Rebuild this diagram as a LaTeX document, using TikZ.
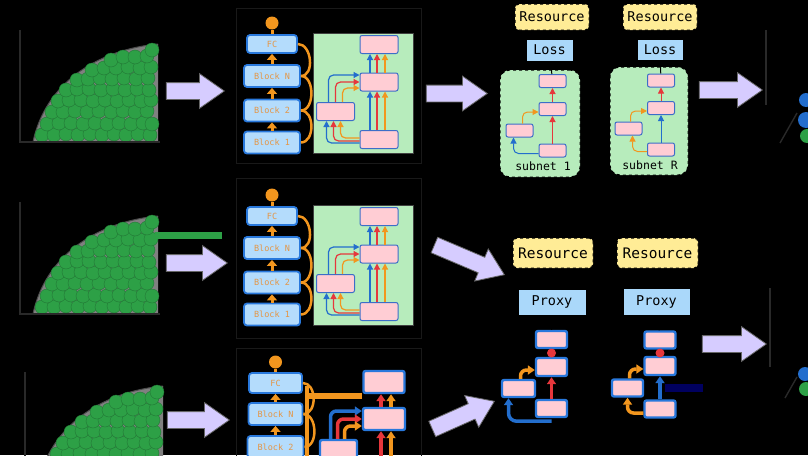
\documentclass[tikz,border=0pt]{standalone}
\usepackage{fontspec}
\setmonofont{DejaVu Sans Mono}
\usetikzlibrary{shapes.arrows, arrows.meta, positioning}
\definecolor{blkBlue}{RGB}{40,120,220}
\definecolor{blkFill}{RGB}{180,220,252}
\definecolor{blkText}{RGB}{228,150,70}
\definecolor{cellPink}{RGB}{255,205,212}
\definecolor{cellBlue}{RGB}{60,110,200}
\definecolor{panelGreen}{RGB}{183,236,188}
\definecolor{dotGreen}{RGB}{45,160,70}
\definecolor{lav}{RGB}{214,204,255}
\definecolor{resYellow}{RGB}{255,236,150}
\definecolor{lossBlue}{RGB}{170,216,250}
\definecolor{skipOrange}{RGB}{242,150,30}
\definecolor{skipRed}{RGB}{230,55,60}
\definecolor{skipBlue}{RGB}{35,110,205}
\definecolor{navyBar}{RGB}{0,0,95}

\begin{document}
\begin{tikzpicture}[
  x=1pt, y=-1pt,
  blk/.style={rectangle, rounded corners=3pt, draw=blkBlue, line width=1.8pt,
              fill=blkFill, text=blkText, font=\ttfamily\fontsize{8.5}{9}\selectfont,
              minimum width=56pt, minimum height=22pt, inner sep=0pt},
  cell/.style={rectangle, rounded corners=2pt, draw=cellBlue, line width=1pt,
               fill=cellPink, minimum width=38pt, minimum height=18pt, inner sep=0pt},
  scell/.style={cell, minimum width=27pt, minimum height=13pt},
  tcell/.style={cell, draw=blkBlue, line width=2.4pt, minimum width=31pt, minimum height=17pt},
  res/.style={rectangle, rounded corners=4pt, draw=black, dashed, line width=1pt,
              fill=resYellow, font=\ttfamily\fontsize{13.5}{15}\selectfont,
              minimum width=74pt, minimum height=26pt, inner sep=0pt},
  lossbox/.style={rectangle, draw=black, line width=1pt, fill=lossBlue,
                  font=\ttfamily\fontsize{13.5}{15}\selectfont,
                  minimum width=47pt, minimum height=22pt, inner sep=0pt},
  subnet/.style={rectangle, rounded corners=10pt, draw=black, dashed, line width=1pt,
                 fill=panelGreen, minimum width=80pt, minimum height=107pt, inner sep=0pt},
  panel/.style={rectangle, draw=black!75, line width=0.8pt, fill=panelGreen,
                minimum width=100pt, minimum height=120pt, inner sep=0pt},
  bigarr/.style={single arrow, draw=black!60, line width=0.8pt, fill=lav,
                 minimum width=34pt, single arrow head extend=9pt,
                 single arrow tip angle=70, inner xsep=0pt, inner ysep=8pt, anchor=tip},
  odot/.style={circle, fill=skipOrange, minimum size=13pt, inner sep=0pt},
  rdot/.style={circle, fill=skipRed, minimum size=9pt, inner sep=0pt},
  lbl/.style={font=\ttfamily\fontsize{11.5}{13}\selectfont, text=black},
  carr/.style={-{Triangle[width=6pt,length=6pt]}, line width=1.2pt, rounded corners=5pt},
  oarr/.style={-{Triangle[width=10pt,length=6pt]}, line width=3pt, skipOrange},
  karr/.style={-{Triangle[width=6pt,length=4pt]}, line width=1pt, black},
  thk/.style={-{Triangle[width=9pt,length=7pt]}, line width=3.5pt, rounded corners=6pt},
  skipline/.style={skipOrange, line width=2.5pt},
  frame/.style={draw=black!90, line width=1pt},
  axisline/.style={draw=black!84, line width=1.4pt},
  pics/cloud/.style={code={
    \fill[black!50] (33,142) .. controls (45,85) and (95,50) .. (158,44) -- (158,142) -- cycle;
    \draw[black!70, line width=1pt] (33,142) .. controls (45,85) and (95,50) .. (158,44);
    \foreach \p in {(42,135),(54,135),(66,134),(78,135),(90,134),(102,135),(114,134),(126,135),(138,134),(150,135),
                    (47,124),(59,123),(71,123),(83,124),(95,123),(107,124),(119,123),(131,124),(143,123),(152,124),
                    (52,112),(63,112),(75,111),(87,112),(99,111),(111,112),(123,111),(135,112),(147,111),
                    (58,101),(69,100),(81,100),(93,101),(105,100),(117,101),(129,100),(141,101),(151,100),
                    (66,90),(77,89),(89,89),(101,90),(113,89),(125,90),(137,89),(149,90),
                    (77,80),(88,79),(100,78),(112,79),(124,78),(136,79),(148,78),
                    (92,70),(104,68),(116,68),(128,67),(140,68),(151,67),
                    (111,60),(123,57),(135,57),(147,56),(152,50)}
      \filldraw[fill=dotGreen, draw=dotGreen!75!black, line width=0.4pt] \p circle[radius=7pt];
    \draw[axisline] (20,30) -- (20,142) -- (160,142);
  }},
  pics/netstack/.style={code={
    %% Blocks
    \node[blk, minimum width=50pt, minimum height=18pt] (-fc) at (272,44) {FC};
    \node[blk] (-bn) at (272,76) {Block N};
    \node[blk] (-b2) at (272,110.5) {Block 2};
    \node[blk] (-b1) at (272,142.5) {Block 1};
    \node[odot] (-out) at (272,23) {};
    \draw[skipOrange, line width=3pt] (-fc) -- (-out);
    \draw[oarr] (-b1) -- (-b2);
    \draw[oarr] (-b2) -- (-bn);
    \draw[oarr] (-bn) -- (-fc);
    \draw[skipline] (-b1.east) .. controls +(14,0) and +(14,0) .. (-b2.east);
    \draw[skipline] (-b2.east) .. controls +(14,0) and +(14,0) .. (-bn.east);
    \draw[skipline] (-bn.east) .. controls +(14,0) and +(14,0) .. (-fc.east);
    %% Search space
    \node[panel] (-pnl) at (363,93) {};
    \node[cell] (-c4) at (379,44.5) {};
    \node[cell] (-c3) at (379,82) {};
    \node[cell] (-c2) at (335.5,111.5) {};
    \node[cell] (-c1) at (379,139.5) {};
    \foreach \dx/\col in {-9/skipBlue, -2/skipRed, 6/skipOrange} {
      \draw[carr, \col] ([xshift=\dx pt]-c1.north) -- ([xshift=\dx pt]-c3.south);
      \draw[carr, \col] ([xshift=\dx pt]-c3.north) -- ([xshift=\dx pt]-c4.south);
    }
    \foreach \dy/\dx/\col in {-3.5/-9/skipBlue, -1.5/-2/skipRed, 1.5/5/skipOrange}
      \draw[carr, \col] ([yshift=\dy pt]-c1.west) -| ([xshift=\dx pt]-c2.south);
    \foreach \dx/\dy/\col in {-7/7/skipBlue, 0/0/skipRed, 7/-6/skipOrange}
      \draw[carr, \col] ([xshift=\dx pt]-c2.north) |- ([yshift=\dy pt]-c3.west);
  }},
]
\useasboundingbox (0,0) rectangle (808,455);
\fill[black] (0,0) rectangle (808,455);

%% Row frames
\draw[frame] (236,8) rectangle (421,163);
\draw[frame] (236,178) rectangle (421,338);
\draw[frame] (236,348) rectangle (421,462);

%% Scatter clouds
\pic at (0,0) {cloud};
\pic at (0,172) {cloud};
\pic at (5,342) {cloud};
\draw[dotGreen, line width=7pt] (155,235.5) -- (222,235.5);

%% Stacks and search spaces
\pic (ra) at (0,0) {netstack};
\pic (rb) at (0,172) {netstack};

%% Row 3 stack
\node[blk, minimum width=53pt, minimum height=20pt] (fc3) at (275.5,383) {FC};
\node[blk, minimum width=54pt] (bn3) at (275.5,414) {Block N};
\node[blk] (b23) at (275.5,447) {Block 2};
\node[odot] (out3) at (275.5,362) {};
\draw[skipOrange, line width=3pt] (fc3) -- (out3);
\draw[oarr] (b23) -- (bn3);
\draw[oarr] (bn3) -- (fc3);
\draw[skipOrange, line width=4pt] (307,386) -- (307,462);
\draw[skipline] (b23.east) .. controls +(14,0) and +(14,0) .. (bn3.east);
\draw[skipline] (bn3.east) .. controls +(14,0) and +(14,0) .. (fc3.east);
\node[tcell, minimum width=41pt, minimum height=22pt] (m3) at (384,382) {};
\node[tcell, minimum width=42pt, minimum height=22pt] (m2) at (384,419) {};
\node[tcell, minimum width=37pt, minimum height=20pt] (m1) at (338.5,450) {};
\coordinate (sk3) at (307,396);
\draw[skipOrange, line width=6pt] (sk3) -- (sk3 -| m3.west);
\coordinate (m0) at (384,462);
\draw[thk, skipRed] ([xshift=-3pt]m0) -- ([xshift=-3pt]m2.south);
\draw[thk, skipOrange] ([xshift=7pt]m0) -- ([xshift=7pt]m2.south);
\draw[thk, skipRed] ([xshift=-3pt]m2.north) -- ([xshift=-3pt]m3.south);
\draw[thk, skipOrange] ([xshift=7pt]m2.north) -- ([xshift=7pt]m3.south);
\draw[thk, skipBlue] ([xshift=-8pt]m1.north) |- ([yshift=8pt]m2.west);
\draw[thk, skipRed] ([xshift=-1pt]m1.north) |- (m2.west);
\draw[thk, skipOrange] ([xshift=6pt]m1.north) |- ([yshift=-7pt]m2.west);

%% Big arrows (placed by their tips)
\node[bigarr, minimum height=58pt] (ar1) at (225,91) {};
\node[bigarr, minimum height=61pt] (ar2) at (488,93.5) {};
\node[bigarr, minimum height=63pt] (ar3) at (763,90) {};
\node[bigarr, minimum height=61pt] (ar4) at (228,263) {};
\node[bigarr, minimum height=76pt, rotate=-23] (ar5) at (505,275) {};
\node[bigarr, minimum height=62pt] (ar6) at (230,420) {};
\node[bigarr, minimum height=68pt, rotate=24] (ar7) at (495,401) {};
\node[bigarr, minimum height=64pt] (ar8) at (767,344) {};

%% Row 1: subnets
\node[subnet] (sn1) at (540,123.5) {};
\node[lbl] (sn1l) at (543,166) {subnet 1};
\node[scell] (s4) at (552.5,81) {};
\node[scell] (s3) at (552.5,109) {};
\node[scell] (s2) at (519.5,130.5) {};
\node[scell] (s1) at (552.5,150.5) {};
\draw[carr, skipRed, line width=1pt] (s1) -- (s3);
\draw[carr, skipRed, line width=1pt] (s3) -- (s4);
\draw[carr, skipBlue, line width=1pt] ([yshift=-3pt]s1.west) -| ([xshift=-6pt]s2.south);
\draw[carr, skipOrange, line width=1pt] ([xshift=3pt]s2.north) |- ([yshift=-3pt]s3.west);
\node[lossbox] (loss1) at (549.5,50) {Loss};
\node[res] (res1) at (552,17) {Resource};
\draw[karr] (s4) -- (loss1);
\draw[karr] (loss1) -- (res1);

\node[subnet, minimum width=78pt, minimum height=108pt] (snR) at (649,121) {};
\node[lbl] (snRl) at (650,165) {subnet R};
\node[scell] (u4) at (661,80.5) {};
\node[scell] (u3) at (661,108) {};
\node[scell] (u2) at (628.5,128.5) {};
\node[scell] (u1) at (661,149.5) {};
\draw[carr, skipBlue, line width=1pt] (u1) -- (u3);
\draw[carr, skipRed, line width=1pt] (u3) -- (u4);
\draw[carr, skipOrange, line width=1pt] ([yshift=-2pt]u1.west) -| ([xshift=4pt]u2.south);
\draw[carr, skipOrange, line width=1pt] ([xshift=2pt]u2.north) |- ([yshift=-3pt]u3.west);
\node[lossbox, minimum width=46pt, minimum height=21pt] (lossR) at (660,50) {Loss};
\node[res] (resR) at (660,17) {Resource};
\draw[karr] (u4) -- (lossR);
\draw[karr] (lossR) -- (resR);

%% Row 2/3: proxy candidates
\node[res, minimum width=80pt, minimum height=30pt, font=\ttfamily\fontsize{14.5}{16}\selectfont] (res2a) at (553,253) {Resource};
\node[res, minimum width=81pt, minimum height=30pt, font=\ttfamily\fontsize{14.5}{16}\selectfont] (res2b) at (657.5,253) {Resource};
\node[lossbox, minimum width=68pt, minimum height=26pt] (prx1) at (552,302) {Proxy};
\node[lossbox, minimum width=67pt, minimum height=27pt] (prx2) at (656.5,301.5) {Proxy};
\draw[karr] (prx1) -- (res2a);
\draw[karr] (prx2) -- (res2b);

\node[tcell] (q4) at (551.5,339.5) {};
\node[tcell, minimum height=18pt] (q3) at (551.5,367) {};
\node[tcell, minimum width=33pt] (q2) at (518.5,388.5) {};
\node[tcell] (q1) at (551.5,408.5) {};
\draw[karr] (q4) -- (prx1);
\draw[skipRed, line width=3pt] (q3) -- (q4);
\node[rdot] (qd) at (551.5,353) {};
\draw[thk, skipRed] (q1) -- (q3);
\draw[thk, skipOrange] ([xshift=2pt]q2.north) |- ([yshift=-3pt]q3.west);
\draw[thk, skipBlue, rounded corners=8pt] ([yshift=-3pt]q1.south) -| ([xshift=-10pt]q2.south);

\node[tcell] (v4) at (660,340) {};
\node[tcell, minimum height=18pt] (v3) at (660,366) {};
\node[tcell] (v2) at (627.5,388) {};
\node[tcell] (v1) at (660,409) {};
\draw[karr] (v4) -- (prx2);
\draw[skipRed, line width=3pt] (v3) -- (v4);
\node[rdot] (vd) at (660,353) {};
\draw[thk, skipBlue] (v1) -- (v3);
\draw[thk, skipOrange] ([xshift=2pt]v2.north) |- ([yshift=-3pt]v3.west);
\draw[thk, skipOrange] ([yshift=-4pt]v1.west) -| (v2.south);
\fill[navyBar] (665,384) rectangle (703,392);

%% Right edge (cut off)
\draw[axisline] (766,30) -- (766,105);
\draw[axisline] (780,143) -- (797,113);
\fill[skipBlue] (806,100) circle[radius=7pt];
\fill[skipBlue] (806,120) circle[radius=8pt];
\fill[dotGreen] (807,136) circle[radius=7pt];
\draw[axisline] (770,288) -- (770,367);
\draw[axisline] (785,398) -- (797,377);
\fill[skipBlue] (805,374) circle[radius=7pt];
\fill[dotGreen] (806,389) circle[radius=7pt];
\end{tikzpicture}
\end{document}
